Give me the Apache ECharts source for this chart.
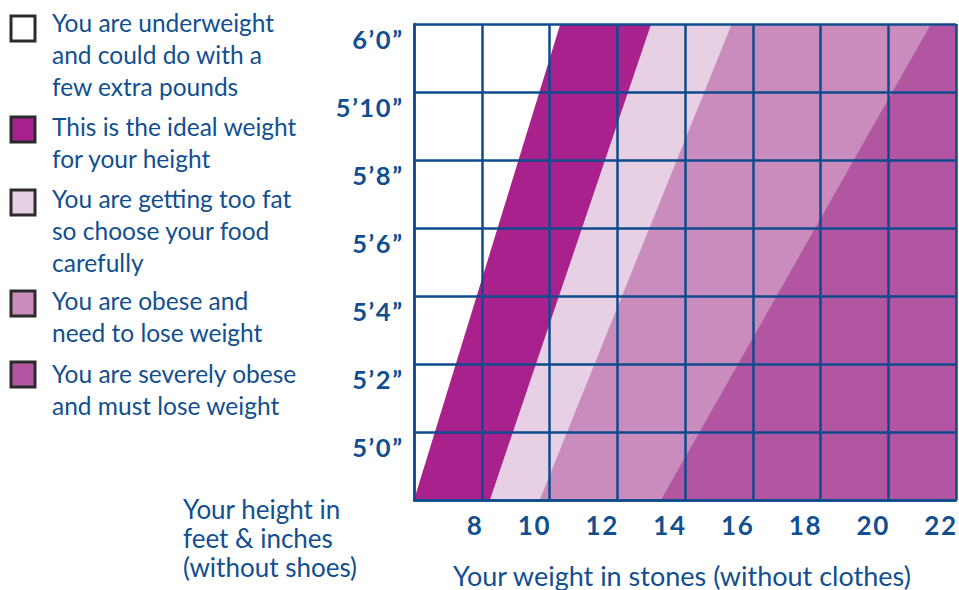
<!DOCTYPE html>
<html>
<head>
<meta charset="utf-8">
<script src="https://cdn.jsdelivr.net/npm/echarts@6/dist/echarts.min.js"></script>
<style>
html,body{margin:0;padding:0;background:#fff;}
#chart{width:959px;height:590px;}
</style>
</head>
<body>
<div id="chart"></div>
<script>
// ---- data ----
const heightRange = [58, 72];            // inches, 4'10" .. 6'0"
const weightRange = [6, 22];             // stones
const idealStart  = [6.0, 10.32];        // weight (st) where band starts at bottom / top height
const fatStart    = [8.24, 13.0];
const obeseStart  = [9.71, 15.38];
const severeStart = [13.29, 21.26];
const yTickValues = [60, 62, 64, 66, 68, 70, 72];
const yTickLabels = ['5\u20190\u201D', '5\u20192\u201D', '5\u20194\u201D', '5\u20196\u201D', '5\u20198\u201D', '5\u201910\u201D', '6\u20190\u201D'];
const xTickValues = [8, 10, 12, 14, 16, 18, 20, 22];
const xTickLabels = ['8', '10', '12', '14', '16', '18', '20', '22'];
const legendItems = [
  ['You are underweight', 'and could do with a', 'few extra pounds'],
  ['This is the ideal weight', 'for your height'],
  ['You are getting too fat', 'so choose your food', 'carefully'],
  ['You are obese and', 'need to lose weight'],
  ['You are severely obese', 'and must lose weight']
];
const yTitle = ['Your height in', 'feet & inches', '(without shoes)'];
const xTitle = 'Your weight in stones (without clothes)';

// ---- style ----
const BLUE = '#0d4b8e';
const TEXT = '#124f90';
const colors = ['#ffffff', '#a8218c', '#e7d0e4', '#c98cbd', '#b356a2'];
const FONT = 'Lato, "Open Sans", sans-serif';
const spaced = s => s.split('').join('\u200A');

function bandData(start) {
  return [[start[0], heightRange[0]], [start[1], heightRange[1]], [weightRange[1], heightRange[1]]];
}
const bands = [idealStart, fatStart, obeseStart, severeStart];

const series = bands.map((b, i) => ({
  type: 'line',
  data: bandData(b),
  symbol: 'none',
  silent: true,
  lineStyle: { width: 0 },
  areaStyle: { color: colors[i + 1], opacity: 1, origin: 'start' },
  z: 2 + i
}));

// legend graphics
const graphics = [];
const boxTops = [16, 117, 190, 291, 362];
const lineTops = [22, 126, 198, 300, 373];
legendItems.forEach((lines, i) => {
  graphics.push({
    type: 'rect',
    shape: { x: 11, y: boxTops[i], width: 24, height: 25 },
    style: { fill: colors[i], stroke: '#2b2b2b', lineWidth: 3 }
  });
  lines.forEach((t, j) => {
    graphics.push({
      type: 'text',
      x: 52, y: lineTops[i] + j * 32,
      style: { text: t, fill: TEXT, font: '24.5px ' + FONT, textVerticalAlign: 'middle', verticalAlign: 'middle' }
    });
  });
});
yTitle.forEach((t, j) => {
  graphics.push({
    type: 'text', x: 183, y: 509 + j * 29,
    style: { text: t, fill: TEXT, font: '26px ' + FONT, textVerticalAlign: 'middle', verticalAlign: 'middle' }
  });
});
graphics.push({
  type: 'text', x: 453, y: 575,
  style: { text: xTitle, fill: TEXT, font: '27px ' + FONT, textVerticalAlign: 'middle', verticalAlign: 'middle' }
});

const chart = echarts.init(document.getElementById('chart'), null, { renderer: 'svg' });
chart.setOption({
  animation: false,
  backgroundColor: '#fff',
  grid: { left: 414, right: 1, top: 24, bottom: 90, containLabel: false },
  xAxis: {
    type: 'value', min: weightRange[0], max: weightRange[1], interval: 2, z: 10,
    axisLine: { show: true, lineStyle: { color: BLUE, width: 2.5 } },
    axisTick: { show: false },
    splitLine: { show: true, lineStyle: { color: BLUE, width: 2.5 } },
    axisLabel: {
      showMinLabel: false, align: 'right', margin: 12,
      color: TEXT, fontFamily: FONT, fontWeight: 'bold', fontSize: 26,
      formatter: v => { const k = xTickValues.indexOf(v); return k >= 0 ? spaced(xTickLabels[k]) : ''; }
    }
  },
  yAxis: {
    type: 'value', min: heightRange[0], max: heightRange[1], interval: 2, z: 10,
    axisLine: { show: true, lineStyle: { color: BLUE, width: 2.5 } },
    axisTick: { show: false },
    splitLine: { show: true, lineStyle: { color: BLUE, width: 2.5 } },
    axisLabel: {
      showMinLabel: false, margin: 12, verticalAlign: 'top', lineHeight: 30,
      color: TEXT, fontFamily: FONT, fontWeight: 'bold', fontSize: 25.5,
      formatter: v => { const k = yTickValues.indexOf(v); return k >= 0 ? spaced(yTickLabels[k]) : ''; }
    }
  },
  series: series,
  graphic: graphics
});
</script>
</body>
</html>
